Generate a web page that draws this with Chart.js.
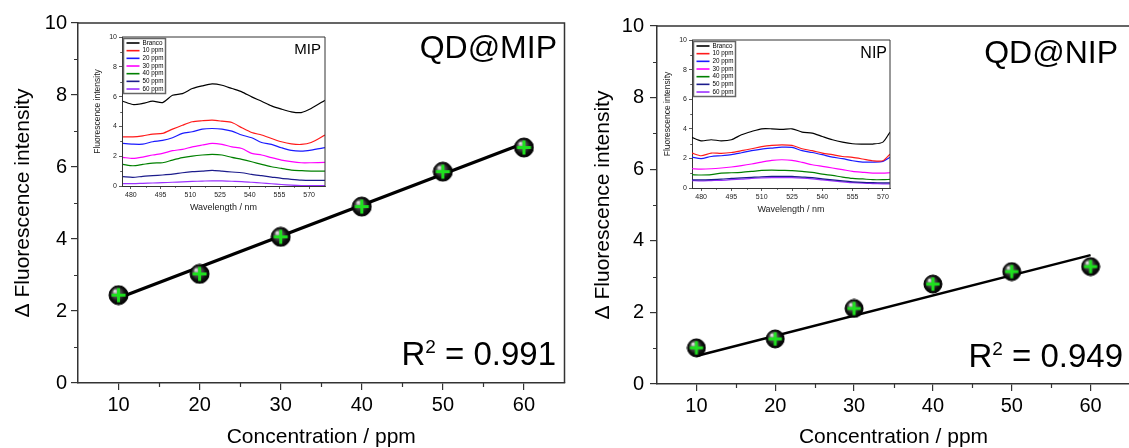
<!DOCTYPE html>
<html>
<head>
<meta charset="utf-8">
<script src="https://cdn.jsdelivr.net/npm/chart.js@4.4.1/dist/chart.umd.min.js"></script>
<style>
  body { margin: 0; width: 1129px; height: 448px; overflow: hidden; background: #fff; position: relative;
         font-family: "Liberation Sans", Arial, sans-serif; }
  canvas { position: absolute; }
  .lbl { position: absolute; color: #000; white-space: nowrap; line-height: 1; }
  .sq { font-size: 19px; vertical-align: 12px; }
</style>
</head>
<body>
<canvas id="mipMain" width="575" height="448" style="left:0;top:0"></canvas>
<canvas id="nipMain" width="565" height="448" style="left:575px;top:0"></canvas>
<canvas id="mipInset" width="245" height="195" style="left:85px;top:28px"></canvas>
<canvas id="nipInset" width="240" height="195" style="left:655px;top:30px"></canvas>

<div class="lbl" style="right:572px;top:31px;font-size:32px">QD@MIP</div>
<div class="lbl" style="right:11px;top:36px;font-size:32px">QD@NIP</div>
<div class="lbl" style="right:573px;top:337px;font-size:33px">R<span class="sq">2</span> = 0.991</div>
<div class="lbl" style="right:6px;top:339px;font-size:33px">R<span class="sq">2</span> = 0.949</div>
<div class="lbl" style="right:808px;top:41px;font-size:15px">MIP</div>
<div class="lbl" style="right:242px;top:45px;font-size:16px">NIP</div>

<script>
// main plots: delta fluorescence vs concentration
const concentrations = [10, 20, 30, 40, 50, 60];
const mipDelta = [2.44, 3.03, 4.06, 4.90, 5.87, 6.54];
const nipDelta = [1.01, 1.26, 2.11, 2.79, 3.14, 3.28];
const fitEnds = [10, 60];
const mipFit = [2.36, 6.66];
const nipFit = [0.78, 3.60];
const mainXTicks = [10, 20, 30, 40, 50, 60];
const mainXMinor = [15, 25, 35, 45, 55];
const mainYTicks = [0, 2, 4, 6, 8, 10];
const mainYMinor = [1, 3, 5, 7, 9];

// insets: spectra
const spectraLabels = ['Branco', '10 ppm', '20 ppm', '30 ppm', '40 ppm', '50 ppm', '60 ppm'];
const insetXTicks = [480, 495, 510, 525, 540, 555, 570];
const insetXMinor = [487.5, 502.5, 517.5, 532.5, 547.5, 562.5];
const insetYTicks = [0, 2, 4, 6, 8, 10];
const insetYMinor = [1, 3, 5, 7, 9];

const mipWavelengths = [476, 481, 486, 491, 496, 501, 506, 511, 516, 521, 526, 531, 536, 541, 546, 551, 556, 561, 566, 571, 578];
const mipBranco = [5.69, 5.47, 5.54, 5.69, 5.60, 6.09, 6.20, 6.54, 6.72, 6.85, 6.76, 6.54, 6.32, 5.98, 5.69, 5.38, 5.16, 4.98, 4.93, 5.20, 5.76];
const mip10 = [3.30, 3.30, 3.37, 3.48, 3.53, 3.82, 4.08, 4.31, 4.38, 4.42, 4.35, 4.26, 3.91, 3.59, 3.42, 3.19, 2.97, 2.83, 2.79, 2.92, 3.42];
const mip20 = [2.86, 2.81, 2.81, 2.97, 3.06, 3.24, 3.53, 3.64, 3.82, 3.86, 3.82, 3.68, 3.42, 3.24, 2.92, 2.79, 2.57, 2.39, 2.34, 2.41, 2.57];
const mip30 = [1.92, 1.85, 1.94, 2.08, 2.19, 2.37, 2.46, 2.63, 2.75, 2.86, 2.79, 2.63, 2.52, 2.19, 2.08, 1.90, 1.74, 1.63, 1.56, 1.56, 1.58];
const mip40 = [1.45, 1.36, 1.45, 1.54, 1.56, 1.74, 1.90, 2.01, 2.08, 2.12, 2.08, 1.92, 1.79, 1.63, 1.45, 1.29, 1.18, 1.07, 1.03, 1.00, 1.00];
const mip50 = [0.63, 0.58, 0.65, 0.69, 0.74, 0.80, 0.89, 0.96, 1.00, 1.05, 1.00, 0.94, 0.89, 0.78, 0.69, 0.60, 0.51, 0.45, 0.40, 0.38, 0.38];
const mip60 = [0.16, 0.16, 0.18, 0.20, 0.22, 0.25, 0.28, 0.31, 0.33, 0.35, 0.34, 0.32, 0.30, 0.25, 0.20, 0.15, 0.10, 0.06, 0.03, 0.02, 0.02];

const nipWavelengths = [475.5, 480, 485, 490, 495, 500, 505, 510, 515, 520, 525, 530, 535, 540, 545, 550, 555, 560, 565, 570, 573.5];
const nipBranco = [3.42, 3.19, 3.26, 3.19, 3.26, 3.60, 3.82, 4.00, 4.00, 3.96, 4.00, 3.78, 3.71, 3.48, 3.26, 3.10, 2.99, 2.97, 2.97, 3.10, 3.78];
const nip10 = [2.36, 2.18, 2.36, 2.34, 2.40, 2.52, 2.65, 2.79, 2.88, 2.92, 2.88, 2.65, 2.52, 2.36, 2.25, 2.13, 2.07, 1.96, 1.84, 1.84, 2.29];
const nip20 = [2.09, 1.98, 2.13, 2.18, 2.25, 2.38, 2.52, 2.63, 2.70, 2.76, 2.74, 2.52, 2.40, 2.25, 2.09, 1.98, 1.84, 1.75, 1.75, 1.80, 2.07];
const nip30 = [1.30, 1.28, 1.30, 1.35, 1.42, 1.51, 1.62, 1.75, 1.87, 1.91, 1.87, 1.73, 1.57, 1.46, 1.35, 1.24, 1.12, 1.06, 1.01, 1.01, 1.03];
const nip40 = [0.90, 0.88, 0.90, 1.01, 1.03, 1.06, 1.12, 1.19, 1.21, 1.19, 1.17, 1.12, 1.06, 0.94, 0.85, 0.74, 0.65, 0.61, 0.56, 0.56, 0.58];
const nip50 = [0.55, 0.55, 0.57, 0.60, 0.65, 0.68, 0.72, 0.76, 0.78, 0.78, 0.78, 0.74, 0.70, 0.62, 0.55, 0.48, 0.42, 0.38, 0.36, 0.35, 0.35];
const nip60 = [0.50, 0.48, 0.50, 0.52, 0.56, 0.60, 0.65, 0.68, 0.70, 0.70, 0.70, 0.67, 0.62, 0.55, 0.48, 0.42, 0.36, 0.32, 0.30, 0.28, 0.28];

const spectraColors = ['#000000', '#ff1a1a', '#1a1aff', '#ff00ff', '#008000', '#1c1c8c', '#9b30ff'];

Chart.defaults.font.family = '"Liberation Sans", Arial, sans-serif';
Chart.defaults.color = '#000';
Chart.defaults.animation = false;

const axisColor = '#333';

// closes the box and adds the short minor ticks
const framePlugin = {
  id: 'frame',
  afterDraw(chart, args, opts) {
    const { ctx, chartArea: a, scales: { x, y } } = chart;
    ctx.save();
    ctx.strokeStyle = opts.color;
    ctx.lineWidth = opts.width;
    ctx.beginPath();
    ctx.moveTo(a.left, a.top);
    ctx.lineTo(a.right, a.top);
    ctx.lineTo(a.right, a.bottom);
    ctx.stroke();
    ctx.lineWidth = opts.minorWidth;
    ctx.beginPath();
    opts.xMinor.forEach(v => {
      const px = Math.round(x.getPixelForValue(v)) + 0.5;
      ctx.moveTo(px, a.bottom);
      ctx.lineTo(px, a.bottom + opts.minorLen);
    });
    opts.yMinor.forEach(v => {
      const py = Math.round(y.getPixelForValue(v)) + 0.5;
      ctx.moveTo(a.left, py);
      ctx.lineTo(a.left - opts.minorLen, py);
    });
    ctx.stroke();
    ctx.restore();
  }
};

// small boxed legend in the top-left corner of the insets
const insetLegend = {
  id: 'insetLegend',
  afterDraw(chart, args, opts) {
    if (!opts.show) return;
    const { ctx, chartArea: a } = chart;
    const sets = chart.data.datasets;
    const x0 = a.left + 1.5, y0 = a.top + 1.5, w = 42, rowH = 7.67;
    const h = 55;
    ctx.save();
    ctx.fillStyle = '#fff';
    ctx.fillRect(x0, y0, w, h);
    ctx.strokeStyle = '#666';
    ctx.lineWidth = 1.5;
    ctx.strokeRect(x0, y0, w, h);
    ctx.font = '6.3px "Liberation Sans", Arial, sans-serif';
    ctx.textBaseline = 'middle';
    sets.forEach((ds, i) => {
      const yy = y0 + 4.5 + rowH * i;
      ctx.strokeStyle = ds.borderColor;
      ctx.lineWidth = 1.6;
      ctx.beginPath();
      ctx.moveTo(x0 + 3, yy);
      ctx.lineTo(x0 + 16, yy);
      ctx.stroke();
      ctx.fillStyle = '#000';
      ctx.fillText(ds.label, x0 + 19, yy);
    });
    ctx.restore();
  }
};

function makeMarker(r) {
  const c = document.createElement('canvas');
  const s = Math.ceil(r * 2 + 2);
  c.width = s; c.height = s;
  const g = c.getContext('2d');
  const cx = s / 2;
  g.beginPath();
  g.arc(cx, cx, r, 0, Math.PI * 2);
  const grad = g.createRadialGradient(cx - r * 0.4, cx - r * 0.45, 0.5, cx, cx, r);
  grad.addColorStop(0, '#e8e8e8');
  grad.addColorStop(0.3, '#666');
  grad.addColorStop(0.75, '#111');
  grad.addColorStop(1, '#000');
  g.fillStyle = grad;
  g.fill();
  g.lineWidth = 1;
  g.strokeStyle = '#000';
  g.stroke();
  g.fillStyle = '#1fe01f';
  const arm = r * 0.74, t = 3;
  g.fillRect(cx - arm, cx - t / 2, arm * 2, t);
  g.fillRect(cx - t / 2, cx - arm, t, arm * 2);
  return c;
}

function toXY(xs, ys) {
  return xs.map((v, i) => ({ x: v, y: ys[i] }));
}

function mainChart(id, values, fit, geo) {
  return new Chart(document.getElementById(id), {
    type: 'scatter',
    data: {
      datasets: [
        { data: toXY(concentrations, values), pointStyle: makeMarker(geo.marker), pointRadius: geo.marker, showLine: false },
        { data: toXY(fitEnds, fit), showLine: true, borderColor: '#000', borderWidth: geo.lineW, pointRadius: 0 }
      ]
    },
    options: {
      responsive: false,
      layout: { padding: { left: 0, top: geo.top, right: geo.right, bottom: 0 } },
      plugins: {
        legend: { display: false },
        tooltip: { enabled: false },
        frame: { color: axisColor, width: 1.5, minorWidth: 1.2, minorLen: 4, xMinor: mainXMinor, yMinor: mainYMinor }
      },
      scales: {
        x: {
          type: 'linear', min: 5, max: 65,
          afterBuildTicks: s => { s.ticks = mainXTicks.map(v => ({ value: v })); },
          afterFit: s => { s.height = geo.xh; },
          ticks: { font: { size: 20 }, padding: 3, maxRotation: 0 },
          grid: { drawOnChartArea: false, tickLength: 7, color: axisColor, lineWidth: 1.2 },
          border: { color: axisColor, width: 1.5 },
          title: { display: true, text: 'Concentration / ppm', font: { size: 21, lineHeight: 1 }, padding: { top: 0, bottom: 0 } }
        },
        y: {
          min: 0, max: 10,
          afterBuildTicks: s => { s.ticks = mainYTicks.map(v => ({ value: v })); },
          afterFit: s => { s.width = geo.yw; },
          ticks: { font: { size: 20 }, padding: geo.tickPad },
          grid: { drawOnChartArea: false, tickLength: 7, color: axisColor, lineWidth: 1.2 },
          border: { color: axisColor, width: 1.5 },
          title: { display: true, text: 'Δ Fluorescence intensity', font: { size: 21 }, padding: { top: geo.titlePad, bottom: 0 } }
        }
      }
    },
    plugins: [framePlugin]
  });
}

function insetChart(id, wavelengths, series, xMax, geo) {
  return new Chart(document.getElementById(id), {
    type: 'line',
    data: {
      datasets: series.map((ys, i) => ({
        label: spectraLabels[i],
        data: toXY(wavelengths, ys),
        borderColor: spectraColors[i],
        borderWidth: 1.2,
        pointRadius: 0,
        tension: 0.25
      }))
    },
    options: {
      responsive: false,
      layout: { padding: { left: 0, top: geo.top, right: geo.right, bottom: 0 } },
      plugins: {
        legend: { display: false },
        tooltip: { enabled: false },
        insetLegend: { show: true },
        frame: { color: axisColor, width: 1, minorWidth: 0.8, minorLen: 1.8, xMinor: insetXMinor, yMinor: insetYMinor }
      },
      scales: {
        x: {
          type: 'linear', min: 475.5, max: xMax,
          afterBuildTicks: s => { s.ticks = insetXTicks.map(v => ({ value: v })); },
          afterFit: s => { s.height = geo.xh; },
          ticks: { font: { size: 7 }, padding: 2, maxRotation: 0, color: '#222' },
          grid: { drawOnChartArea: false, tickLength: 3, color: axisColor, lineWidth: 0.8 },
          border: { color: axisColor, width: 1 },
          title: { display: true, text: 'Wavelength / nm', font: { size: 9 }, padding: { top: 0, bottom: 10 }, color: '#222' }
        },
        y: {
          min: 0, max: 10,
          afterBuildTicks: s => { s.ticks = insetYTicks.map(v => ({ value: v })); },
          afterFit: s => { s.width = geo.yw; },
          ticks: { font: { size: 7 }, padding: 2, color: '#222' },
          grid: { drawOnChartArea: false, tickLength: 3, color: axisColor, lineWidth: 0.8 },
          border: { color: axisColor, width: 1 },
          title: { display: true, text: 'Fluorescence intensity', font: { size: 8.5 }, padding: { top: 8, bottom: 0 }, color: '#222' }
        }
      }
    },
    plugins: [framePlugin, insetLegend]
  });
}

mainChart('mipMain', mipDelta, mipFit, { top: 23, right: 8, xh: 65, yw: 78, tickPad: 4, titlePad: 11, marker: 9.5, lineW: 3.3 });
mainChart('nipMain', nipDelta, nipFit, { top: 26, right: 8, xh: 64, yw: 82, tickPad: 6, titlePad: 16, marker: 9, lineW: 2.5 });

insetChart('mipInset', mipWavelengths, [mipBranco, mip10, mip20, mip30, mip40, mip50, mip60], 578,
  { top: 9, right: 5, xh: 37, yw: 37 });
insetChart('nipInset', nipWavelengths, [nipBranco, nip10, nip20, nip30, nip40, nip50, nip60], 573.5,
  { top: 10, right: 5, xh: 37, yw: 37 });
</script>
</body>
</html>
